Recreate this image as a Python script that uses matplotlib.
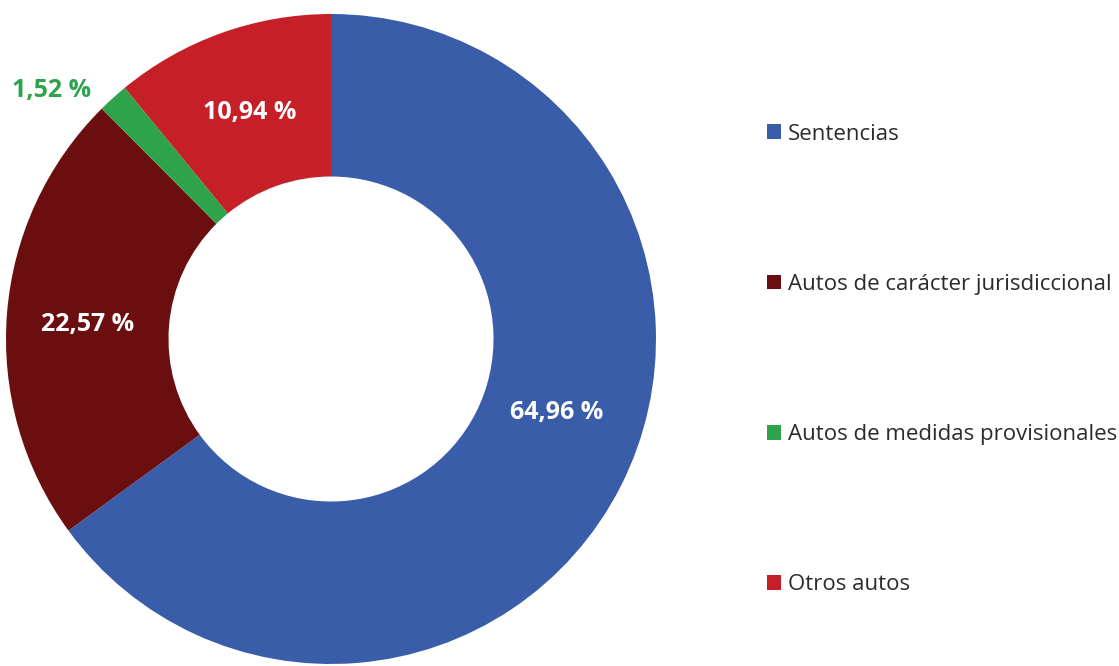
import numpy as np
import matplotlib.pyplot as plt
from matplotlib.patches import Patch

plt.rcParams['font.family'] = ['Open Sans', 'DejaVu Sans']

# Data
categories = ["Sentencias", "Autos de carácter jurisdiccional",
              "Autos de medidas provisionales", "Otros autos"]
values = [64.96, 22.57, 1.52, 10.94]
labels = ["64,96 %", "22,57 %", "1,52 %", "10,94 %"]
colors = ["#3A5DAA", "#6B0E0F", "#2EA34B", "#C52027"]

W, H = 1119, 666
fig = plt.figure(figsize=(W / 100, H / 100), dpi=100)

# donut axes placed in pixels: center (331, 339), radius 325
cx, cy, r = 331, 339, 325
ax = fig.add_axes([(cx - r) / W, (H - cy - r) / H, 2 * r / W, 2 * r / H])

wedges, _ = ax.pie(values, colors=colors, startangle=90, counterclock=False,
                   radius=1, wedgeprops=dict(width=0.5, edgecolor="none"))
ax.set_xlim(-1, 1)
ax.set_ylim(-1, 1)
ax.set_aspect("equal")
ax.axis("off")

# label placement: distance from center and small angle shifts
label_dist = [0.73, 0.75, 1.15, 0.74]
label_shift = [9, 1, 6.3, 0]
label_color = ["white", "white", colors[2], "white"]
for w, lab, d, s, c in zip(wedges, labels, label_dist, label_shift, label_color):
    ang = np.deg2rad((w.theta1 + w.theta2) / 2 + s)
    ax.text(d * np.cos(ang), d * np.sin(ang), lab, ha="center", va="center",
            fontsize=18, fontweight="bold", color=c, clip_on=False)

handles = [Patch(facecolor=c, edgecolor="none") for c in colors]
fig.legend(handles, categories, loc="center left",
           bbox_to_anchor=(767 / W, (H - 359.5) / H), frameon=False,
           fontsize=16, handlelength=0.65, handleheight=0.65,
           handletextpad=0.28, labelspacing=5.82, borderpad=0,
           borderaxespad=0, labelcolor="#2b2b2b")

fig.savefig("out.png", dpi=100)
